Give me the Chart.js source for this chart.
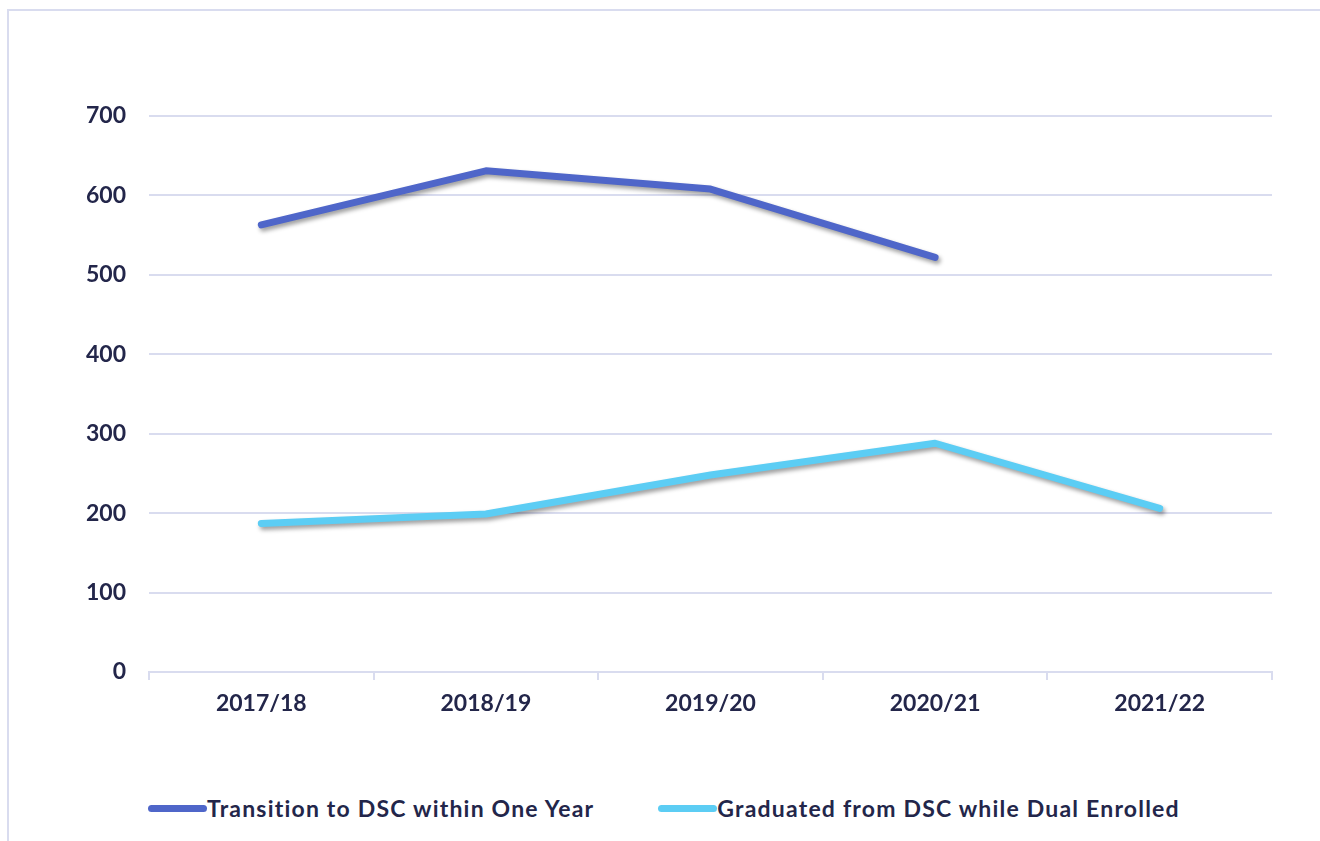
<!DOCTYPE html>
<html>
<head>
<meta charset="utf-8">
<script src="https://cdn.jsdelivr.net/npm/chart.js@4.4.1/dist/chart.umd.min.js"></script>
<style>
    html, body { margin: 0; padding: 0; background: #ffffff; }
    body { width: 1320px; height: 841px; position: relative; overflow: hidden; font-family: Lato, "Open Sans", sans-serif; }
    #frame {
        position: absolute; left: 7px; top: 9px; width: 1330px; height: 850px;
        border-left: 2px solid #d9dcef; border-top: 2px solid #d9dcef;
    }
    #wrap { position: absolute; left: 0; top: 0; width: 1320px; height: 760px; }
    #legend {
        position: absolute; left: 148px; top: 790px; height: 36px;
        display: flex; align-items: center; color: #23264a;
        font-weight: 700; font-size: 23px; letter-spacing: 1.2px;
    }
    .item { display: flex; align-items: center; margin-right: 64px; }
    .swatch { width: 59px; height: 7px; border-radius: 4px; }
</style>
</head>
<body>
<div id="frame"></div>
<div id="wrap"><canvas id="line-canvas"></canvas></div>
<div id="legend"></div>
<script>
const years = ["2017/18", "2018/19", "2019/20", "2020/21", "2021/22"]
const transitionToDsc = [563, 631, 608, 522, null]
const graduatedDual = [187, 199, 248, 288, 206]
const yTicks = [0, 100, 200, 300, 400, 500, 600, 700]

const seriesNames = ["Transition to DSC within One Year", "Graduated from DSC while Dual Enrolled"]
const seriesColors = ["#4f66c9", "#5ccdf4"]

const textColor = "#23264a"
const gridColor = "#d9dcef"

// soft drop shadow under each line
const lineShadow = {
    id: "lineShadow",
    beforeDatasetDraw(chart) {
        const ctx = chart.ctx
        ctx.save()
        ctx.shadowColor = "rgba(0, 0, 0, 0.38)"
        ctx.shadowBlur = 4
        ctx.shadowOffsetX = 2
        ctx.shadowOffsetY = 3
    },
    afterDatasetDraw(chart) {
        chart.ctx.restore()
    }
}

const canvas = document.querySelector("#line-canvas")

const lineChart = new Chart(canvas, {
    type: "line",
    data: {
        labels: years,
        datasets: [
            {
                label: seriesNames[0],
                data: transitionToDsc,
                borderColor: seriesColors[0],
                backgroundColor: seriesColors[0],
            },
            {
                label: seriesNames[1],
                data: graduatedDual,
                borderColor: seriesColors[1],
                backgroundColor: seriesColors[1],
            }
        ]
    },
    options: {
        responsive: true,
        maintainAspectRatio: false,
        animation: false,
        layout: {
            padding: { top: 116, right: 48, bottom: 28, left: 0 }
        },
        elements: {
            line: {
                borderWidth: 7,
                borderCapStyle: "round",
                borderJoinStyle: "round",
                tension: 0
            },
            point: { radius: 0, hoverRadius: 0 }
        },
        plugins: {
            legend: { display: false },
            tooltip: { enabled: false }
        },
        scales: {
            x: {
                offset: true,
                grid: {
                    offset: true,
                    drawOnChartArea: false,
                    drawTicks: true,
                    tickLength: 8,
                    color: gridColor,
                    lineWidth: 2
                },
                border: { display: true, color: gridColor, width: 2 },
                ticks: {
                    color: textColor,
                    padding: 10,
                    font: { family: "Lato", weight: "bold", size: 23 }
                },
                afterFit(scale) { scale.height = 60 }
            },
            y: {
                min: 0,
                max: 700,
                afterBuildTicks(scale) {
                    scale.ticks = yTicks.map(v => ({ value: v }))
                },
                grid: {
                    drawTicks: false,
                    color: gridColor,
                    lineWidth: 2
                },
                border: { display: false },
                ticks: {
                    color: textColor,
                    padding: 23,
                    font: { family: "Lato", weight: "bold", size: 23 }
                },
                afterFit(scale) { scale.width = 149 }
            }
        }
    },
    plugins: [lineShadow]
})

// html legend built from the series names
const legendBox = document.querySelector("#legend")
seriesNames.forEach((name, i) => {
    const item = document.createElement("div")
    item.className = "item"
    const sw = document.createElement("span")
    sw.className = "swatch"
    sw.style.background = seriesColors[i]
    const txt = document.createElement("span")
    txt.textContent = name
    item.appendChild(sw)
    item.appendChild(txt)
    legendBox.appendChild(item)
})
</script>
</body>
</html>
